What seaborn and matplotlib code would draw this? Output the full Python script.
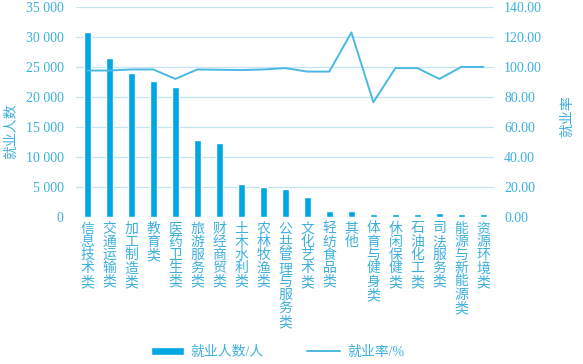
import numpy as np
import pandas as pd
import matplotlib
matplotlib.use("Agg")
import matplotlib.pyplot as plt
import seaborn as sns
from matplotlib.ticker import FuncFormatter

# 专业类别、就业人数、就业率
categories = ["信息技术类", "交通运输类", "加工制造类", "教育类", "医药卫生类",
              "旅游服务类", "财经商贸类", "土木水利类", "农林牧渔类", "公共管理与服务类",
              "文化艺术类", "轻纺食品类", "其他", "体育与健身类", "休闲保健类",
              "石油化工类", "司法服务类", "能源与新能源类", "资源环境类"]
employed = [30900, 26500, 23950, 22650, 21700, 12800, 12300, 5450, 5050, 4700,
            3250, 1050, 950, 500, 480, 480, 650, 480, 480]
emp_rate = [97.6, 97.6, 98.3, 98.3, 92.0, 98.3, 98.1, 97.9, 98.3, 99.2,
            96.9, 96.9, 123.0, 76.5, 99.2, 99.2, 92.0, 100.0, 100.0]

BAR = "#00a7e3"
LINE = "#4ab9e2"
TXT = "#3db0de"
GRID = "#c3e5f3"

sns.set_theme(style="white")
plt.rcParams['font.family'] = ['Liberation Serif', 'Noto Sans CJK SC']

df = pd.DataFrame({"cat": categories, "n": employed, "rate": emp_rate})
df["pos"] = np.arange(len(df))

fig = plt.figure(figsize=(5.83, 3.64), dpi=100)
ax1 = fig.add_axes([0.131, 0.404, 0.717, 0.577])

sns.barplot(data=df, x="cat", y="n", color=BAR, width=0.32, saturation=1,
            ax=ax1, label="就业人数/人", legend=False)
ax1.set_ylim(0, 35000)
ax1.set_yticks(np.arange(0, 35001, 5000))
ax1.yaxis.set_major_formatter(FuncFormatter(lambda v, p: f"{int(v):,}".replace(",", " ")))
ax1.set_xlim(-0.5, len(df) - 0.5)
ax1.grid(axis="y", color=GRID, linewidth=0.9)
ax1.set_axisbelow(True)
for s in ax1.spines.values():
    s.set_visible(False)
ax1.set_xticks(df["pos"])
ax1.set_xticklabels(["\n".join(c) for c in categories], fontsize=10,
                    linespacing=1.02, va="top", color=TXT)
ax1.tick_params(axis="x", length=0, pad=4)
ax1.tick_params(axis="y", length=0, pad=9, labelsize=10, labelcolor=TXT)
ax1.set_xlabel("")
ax1.set_ylabel("就业人数", fontsize=10, color=TXT)
ax1.yaxis.set_label_coords(-0.138, 0.41)

ax2 = ax1.twinx()
sns.lineplot(data=df, x="pos", y="rate", color=LINE, linewidth=1.4, sort=False,
             ax=ax2, label="就业率/%", legend=False)
ax2.set_ylim(0, 140)
ax2.set_yticks(np.arange(0, 141, 20))
ax2.yaxis.set_major_formatter(FuncFormatter(lambda v, p: f"{v:.2f}"))
ax2.set_xlim(-0.5, len(df) - 0.5)
for s in ax2.spines.values():
    s.set_visible(False)
ax2.tick_params(axis="y", length=0, pad=7, labelsize=10, labelcolor=TXT)
ax2.set_ylabel("就业率", fontsize=10, color=TXT, rotation=90)
ax2.yaxis.set_label_coords(1.16, 0.48)

h1, l1 = ax1.get_legend_handles_labels()
h2, l2 = ax2.get_legend_handles_labels()
leg = fig.legend(h1 + h2, l1 + l2, loc="center", bbox_to_anchor=(0.476, 0.033),
                 ncol=2, frameon=False, fontsize=10, handlelength=2.4,
                 handleheight=0.5, columnspacing=3.1, handletextpad=0.5)
for t in leg.get_texts():
    t.set_color(TXT)

fig.savefig("out.png", dpi=100)
